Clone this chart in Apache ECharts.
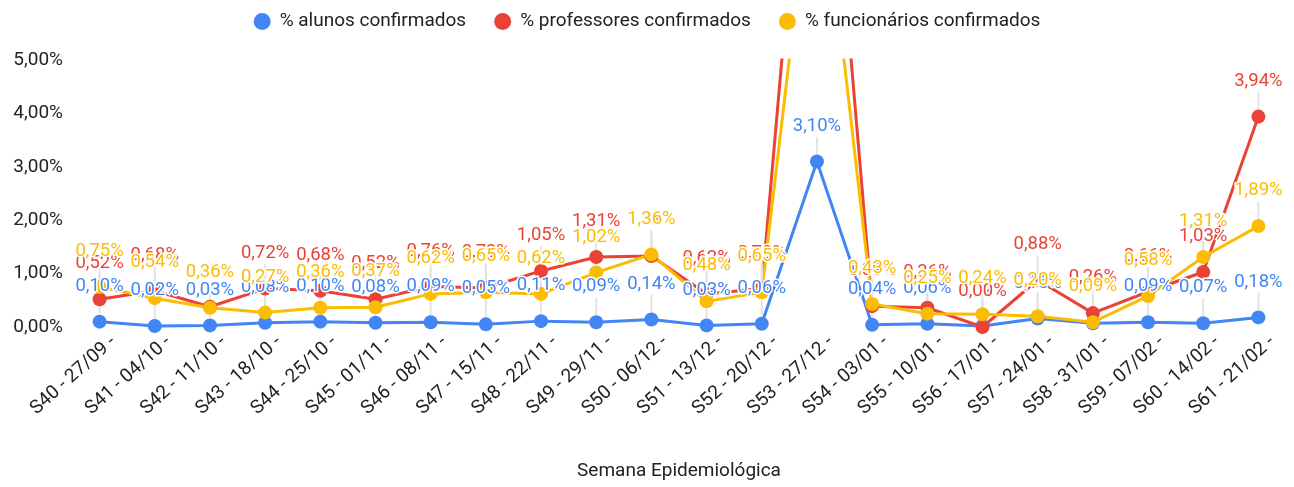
<html>
<head>
    <meta charset="utf-8" />
    <title>Casos confirmados</title>
    <script src="https://cdn.jsdelivr.net/npm/echarts@6/dist/echarts.min.js"></script>
    <style>
        body { margin: 0; background: #fff; }
    </style>
</head>
<body>
    <div id="main" style="width: 1294px;height:487px;"></div>
    <script type="text/javascript">
        var semanas = ['S40 - 27/09 -', 'S41 - 04/10 -', 'S42 - 11/10 -', 'S43 - 18/10 -', 'S44 - 25/10 -',
            'S45 - 01/11 -', 'S46 - 08/11 -', 'S47 - 15/11 -', 'S48 - 22/11 -', 'S49 - 29/11 -', 'S50 - 06/12 -',
            'S51 - 13/12 -', 'S52 - 20/12 -', 'S53 - 27/12 -', 'S54 - 03/01 -', 'S55 - 10/01 -', 'S56 - 17/01 -',
            'S57 - 24/01 -', 'S58 - 31/01 -', 'S59 - 07/02 -', 'S60 - 14/02 -', 'S61 - 21/02 -'];

        var alunos = [0.10, 0.02, 0.03, 0.08, 0.10, 0.08, 0.09, 0.05, 0.11, 0.09, 0.14,
            0.03, 0.06, 3.10, 0.04, 0.06, 0.02, 0.16, 0.07, 0.09, 0.07, 0.18];
        var professores = [0.52, 0.68, 0.38, 0.72, 0.68, 0.52, 0.76, 0.73, 1.05, 1.31, 1.33,
            0.62, 0.72, 12.50, 0.39, 0.36, 0.00, 0.88, 0.26, 0.66, 1.03, 3.94];
        var funcionarios = [0.75, 0.54, 0.36, 0.27, 0.36, 0.37, 0.62, 0.65, 0.62, 1.02, 1.36,
            0.48, 0.65, 9.40, 0.43, 0.25, 0.24, 0.20, 0.09, 0.58, 1.31, 1.89];

        var fonte = 'Roboto, Arial, sans-serif';

        function pct(v) {
            return v.toFixed(2).replace('.', ',') + '%';
        }

        function serie(nome, dados, cor) {
            return {
                name: nome,
                type: 'line',
                data: dados,
                symbol: 'circle',
                symbolSize: 14,
                clip: true,
                lineStyle: { width: 3, color: cor },
                itemStyle: { color: cor },
                label: {
                    show: true,
                    position: 'top',
                    distance: 4,
                    color: cor,
                    fontFamily: fonte,
                    fontSize: 18.5,
                    textBorderColor: '#fff',
                    textBorderWidth: 3,
                    formatter: function (p) { return pct(p.value); }
                },
                labelLayout: { dy: -15 },
                labelLine: {
                    show: true,
                    lineStyle: { color: '#e3e3e3', width: 2 }
                },
                emphasis: { disabled: true }
            };
        }

        var myChart = echarts.init(document.getElementById('main'));

        var option = {
            animation: false,
            backgroundColor: '#fff',
            legend: {
                top: 7,
                left: 'center',
                icon: 'circle',
                itemWidth: 17,
                itemHeight: 17,
                itemGap: 28,
                textStyle: { fontFamily: fonte, fontSize: 19, color: '#222', padding: [0, 0, 0, 4] },
                data: ['% alunos confirmados', '% professores confirmados', '% funcionários confirmados']
            },
            grid: {
                left: 72,
                right: 8,
                top: 60,
                bottom: 160,
                outerBoundsMode: 'none'
            },
            xAxis: {
                type: 'category',
                data: semanas,
                name: 'Semana Epidemiológica',
                nameLocation: 'middle',
                nameGap: 135,
                nameTextStyle: { fontFamily: fonte, fontSize: 19, color: '#222' },
                axisLine: { show: false },
                axisTick: { show: false },
                axisLabel: {
                    rotate: 42,
                    margin: 12,
                    interval: 0,
                    verticalAlign: 'top',
                    padding: [0, -10, 0, 0],
                    fontFamily: fonte,
                    fontSize: 19,
                    color: '#222'
                }
            },
            yAxis: {
                type: 'value',
                min: 0,
                max: 5,
                interval: 1,
                splitLine: { show: false },
                axisLine: { show: false },
                axisTick: { show: false },
                axisLabel: {
                    margin: 9,
                    fontFamily: fonte,
                    fontSize: 19,
                    color: '#222',
                    formatter: function (v) { return pct(v); }
                }
            },
            series: [
                serie('% alunos confirmados', alunos, '#4285F4'),
                serie('% professores confirmados', professores, '#EA4335'),
                serie('% funcionários confirmados', funcionarios, '#FBBC04')
            ]
        };

        myChart.setOption(option);
    </script>
</body>
</html>
